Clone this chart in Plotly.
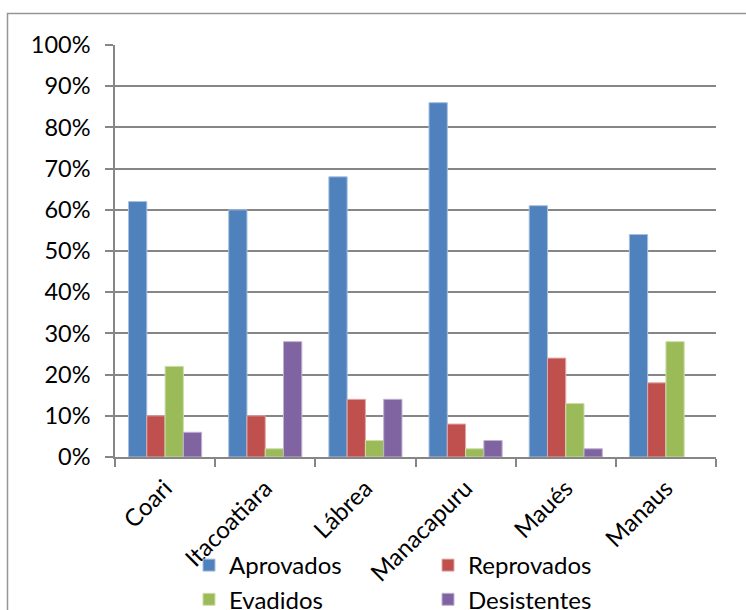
import plotly.graph_objects as go

categories = ["Coari", "Itacoatiara", "Lábrea", "Manacapuru", "Maués", "Manaus"]
aprovados = [0.62, 0.60, 0.68, 0.86, 0.61, 0.54]
reprovados = [0.10, 0.10, 0.14, 0.08, 0.24, 0.18]
evadidos = [0.22, 0.02, 0.04, 0.02, 0.13, 0.28]
desistentes = [0.06, 0.28, 0.14, 0.04, 0.02, 0.00]

series = [
    ("Aprovados", aprovados, "#4F81BD", "#A7C0DE"),
    ("Reprovados", reprovados, "#C0504D", "#E0A8A6"),
    ("Evadidos", evadidos, "#9BBB59", "#CDDDAC"),
    ("Desistentes", desistentes, "#8064A2", "#BFB1D0"),
]

FONT = "Lato"
FS = 24
fig = go.Figure()
for name, vals, col, edge in series:
    fig.add_trace(go.Bar(
        x=categories, y=vals, name=name,
        marker=dict(color=col, line=dict(color=edge,
                                         width=[1 if v > 0 else 0 for v in vals])),
    ))

W, H = 746, 610
L, R, T, B = 115, 30, 45, 153
pw, ph = W - L - R, H - T - B

fig.update_layout(
    width=W, height=H,
    margin=dict(l=L, r=R, t=T, b=B, autoexpand=False),
    paper_bgcolor="white", plot_bgcolor="white",
    barmode="group", bargap=0.27, bargroupgap=0,
    font=dict(family=FONT, size=FS, color="black"),
    showlegend=True,
    legend=dict(
        orientation="h", x=(189 - L) / pw, xanchor="left",
        y=-(543 - (T + ph)) / ph, yanchor="top",
        entrywidth=194, entrywidthmode="pixels",
        font=dict(family=FONT, size=FS, color="black"),
        bgcolor="rgba(0,0,0,0)", traceorder="normal",
    ),
    xaxis=dict(
        type="category", tickangle=-45, tickson="boundaries",
        ticks="outside", ticklen=8, tickcolor="#868686", tickwidth=1.5,
        showline=True, linecolor="#868686", linewidth=1.5,
        showgrid=False, ticklabelstandoff=6,
        tickfont=dict(family=FONT, size=FS, color="black"),
    ),
    yaxis=dict(
        range=[0, 1], dtick=0.1, tickformat=".0%",
        ticks="outside", ticklen=8, tickcolor="#868686", tickwidth=1.5,
        showline=True, linecolor="#868686", linewidth=1.5,
        showgrid=True, gridcolor="#868686", gridwidth=1.5,
        zeroline=False, ticklabelstandoff=10,
        tickfont=dict(family=FONT, size=23.5, color="black"),
    ),
)

# chart area border
fig.add_shape(
    type="rect", xref="paper", yref="paper",
    x0=(7.5 - L) / pw, x1=(W + 20 - L) / pw,
    y0=-(H + 20 - (T + ph)) / ph, y1=1 + (T - 13.5) / ph,
    line=dict(color="#969696", width=1.5), fillcolor="rgba(0,0,0,0)",
    layer="below",
)

fig.write_html("out.html")
